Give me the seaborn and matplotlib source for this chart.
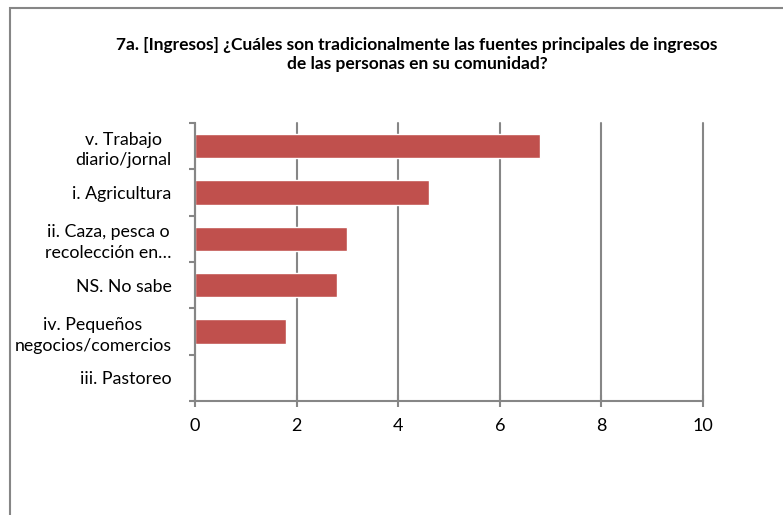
import numpy as np
import pandas as pd
import matplotlib
matplotlib.use("Agg")
import matplotlib.pyplot as plt
from matplotlib.patches import Rectangle
import seaborn as sns

# Data
categories = ["v. Trabajo\ndiario/jornal", "i. Agricultura",
              "ii. Caza, pesca o\nrecolección en…", "NS. No sabe",
              "iv. Pequeños\nnegocios/comercios", "iii. Pastoreo"]
values = [6.8, 4.6, 3.0, 2.8, 1.8, 0.0]
xticks = [0, 2, 4, 6, 8, 10]

df = pd.DataFrame({"fuente": categories, "n": values})

sns.set_style("white")
plt.rcParams['font.family'] = ['Lato', 'DejaVu Sans']
plt.rcParams['text.color'] = 'black'
plt.rcParams['xtick.color'] = 'black'
plt.rcParams['ytick.color'] = 'black'

grey = "#868686"
bar_color = "#C0504D"

fig = plt.figure(figsize=(7.83, 5.15), dpi=100)
ax = fig.add_axes([195/783, 1 - 401/515, (703 - 195)/783, (401 - 123)/515])

sns.barplot(data=df, x="n", y="fuente", orient="h", color=bar_color,
            width=0.52, saturation=1, ax=ax)

ax.set_xlim(0, 10)
ax.set_xticks(xticks)
ax.set_xticklabels([str(t) for t in xticks], fontsize=13)
ax.set_xlabel("")
ax.set_ylabel("")
ax.set_ylim(len(categories) - 0.5, -0.5)

# category labels centred on the bars, ticks on category boundaries
ax.set_yticks(range(len(categories)))
ax.set_yticklabels(categories, fontsize=12.8, multialignment="center",
                   linespacing=1.35)
ax.tick_params(axis="y", length=0, pad=17)
ax.set_yticks(np.arange(-0.5, len(categories)), minor=True)
ax.tick_params(axis="y", which="minor", left=True, length=4, width=1.5, color=grey)
ax.tick_params(axis="x", bottom=True, direction="inout", length=8, width=1.5,
               color=grey, labelcolor="black", pad=8)

ax.grid(axis="x", color=grey, linewidth=1.5)
for gl in ax.get_xgridlines():
    gl.set_clip_on(False)
ax.set_axisbelow(True)
for side in ["top", "right"]:
    ax.spines[side].set_visible(False)
for side in ["left", "bottom"]:
    ax.spines[side].set_color(grey)
    ax.spines[side].set_linewidth(1.5)

fig.text(417/783, 1 - 54.5/515,
         "7a. [Ingresos] ¿Cuáles son tradicionalmente las fuentes principales de ingresos\nde las personas en su comunidad?",
         ha="center", va="center", fontsize=12.5, fontweight="bold", linespacing=1.3)

# chart area border (only top and left visible in the crop)
fig.add_artist(Rectangle((10/783, -0.1), 1.2, 1 - 8/515 + 0.1,
                         transform=fig.transFigure, fill=False,
                         edgecolor=grey, linewidth=1.5))

fig.savefig("out.png", dpi=100)
